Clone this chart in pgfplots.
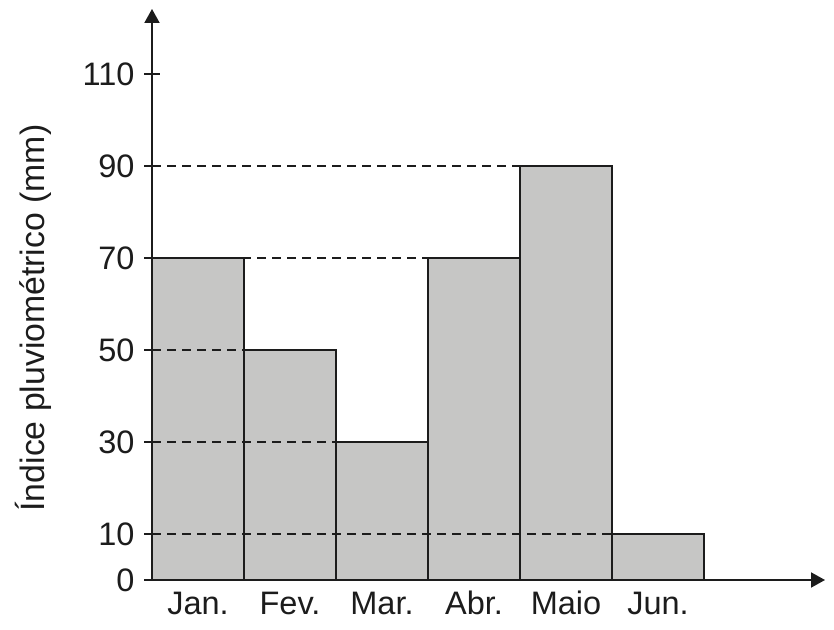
\documentclass[border=0pt]{standalone}
\usepackage{pgfplots}
\pgfplotsset{compat=1.18}
\usepackage{fontspec}
\setmainfont{Liberation Sans}
\usetikzlibrary{arrows.meta}
\definecolor{barfill}{RGB}{198,198,197}
\definecolor{ink}{RGB}{28,28,28}
\begin{document}
\begin{tikzpicture}
\path (-152bp,-50bp) rectangle (682bp,580bp);
\begin{axis}[
  overlay,
  at={(0,0)}, anchor=origin,
  scale only axis,
  width=673bp, height=571bp,
  xmin=0, xmax=7.315,
  ymin=0, ymax=124.1,
  axis lines=left,
  axis line style={line width=1.9bp, draw=ink, -{Triangle[length=14bp,width=15bp]}},
  ytick={0,10,30,50,70,90,110},
  yticklabels={0,10,30,50,70,90,110},
  xtick={0.5,1.5,2.5,3.5,4.5,5.5},
  xticklabels={Jan.,Fev.,Mar.,Abr.,Maio,Jun.},
  x tick style={draw=none},
  y tick style={line width=1.3bp, draw=ink},
  tick align=center,
  major tick length=16bp,
  /pgf/number format/assume math mode=true,
  ticklabel style={font=\fontsize{32.5bp}{38bp}\selectfont, text=ink},
  yticklabel style={xshift=-6bp},
  xticklabel style={anchor=north, text height=24bp, text depth=7bp, yshift=1bp},
  clip=false,
]
\addplot[ybar, bar width=1, bar shift=0, fill=barfill, draw=ink, line width=1.5bp]
  coordinates {(0.5,70) (1.5,50) (2.5,30) (3.5,70) (4.5,90) (5.5,10)};
\addplot[ink, line width=1.4bp, dash pattern=on 9bp off 6bp] coordinates {(0,90) (4,90)};
\addplot[ink, line width=1.4bp, dash pattern=on 9bp off 6bp] coordinates {(0,70) (3,70)};
\addplot[ink, line width=1.4bp, dash pattern=on 9bp off 6bp] coordinates {(0,50) (1,50)};
\addplot[ink, line width=1.4bp, dash pattern=on 9bp off 6bp] coordinates {(0,30) (2,30)};
\addplot[ink, line width=1.4bp, dash pattern=on 9bp off 6bp] coordinates {(0,10) (5,10)};
\end{axis}
\node[rotate=90, text=ink, font=\fontsize{33.8bp}{40bp}\selectfont] at (-119bp,262bp) {Índice pluviométrico (mm)};
\end{tikzpicture}
\end{document}
